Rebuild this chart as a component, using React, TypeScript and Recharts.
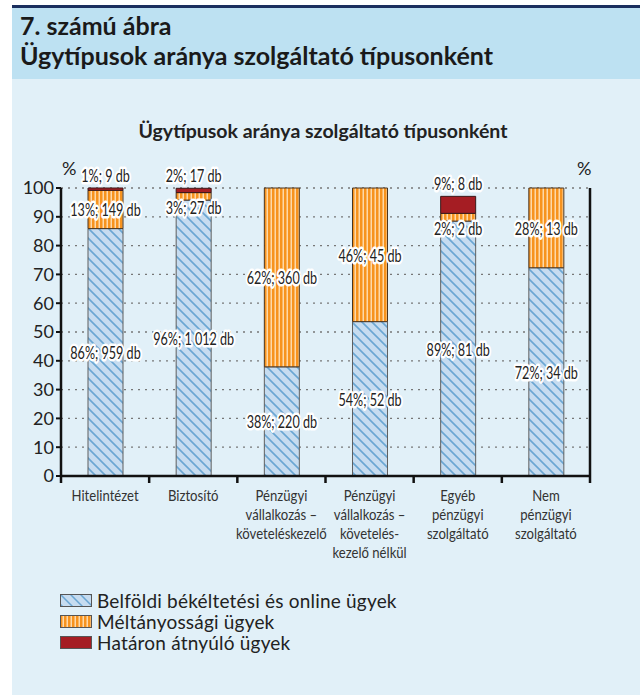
import React from 'react';
import { BarChart, Bar, XAxis, YAxis, CartesianGrid, LabelList } from 'recharts';

// ---- data ----
const categories = [
  'Hitelintézet',
  'Biztosító',
  'Pénzügyi\nvállalkozás –\nköveteléskezelő',
  'Pénzügyi\nvállalkozás –\nkövetelés-\nkezelő nélkül',
  'Egyéb\npénzügyi\nszolgáltató',
  'Nem\npénzügyi\nszolgáltató',
];
const domesticShare = [85.9, 95.8, 37.9, 53.6, 88.5, 72.3];
const equityShare = [13.3, 2.6, 62.1, 46.4, 2.7, 27.7];
const crossBorderShare = [0.8, 1.5, 0, 0, 5.9, 0];
const domesticLabels = ['86%; 959 db', '96%; 1 012 db', '38%; 220 db', '54%; 52 db', '89%; 81 db', '72%; 34 db'];
const equityLabels = ['13%; 149 db', '3%; 27 db', '62%; 360 db', '46%; 45 db', '2%; 2 db', '28%; 13 db'];
const crossBorderLabels = ['1%; 9 db', '2%; 17 db', '', '', '9%; 8 db', ''];
const yTicks = [0, 10, 20, 30, 40, 50, 60, 70, 80, 90, 100];
const seriesNames = ['Belföldi békéltetési és online ügyek', 'Méltányossági ügyek', 'Határon átnyúló ügyek'];

const rows = categories.map((name, i) => ({
  name,
  blue: domesticShare[i],
  orange: equityShare[i],
  red: crossBorderShare[i],
  blueLabel: domesticLabels[i],
  orangeLabel: equityLabels[i],
  redLabel: crossBorderLabels[i],
}));

const MAIN = "Lato, 'Open Sans', sans-serif";

const Halo = ({ x, y, text }: { x: number; y: number; text: string }) => (
  <g transform={`translate(${x},${y})`}>
    <text
      x={0}
      y={0}
      transform="scale(0.7,1)"
      textAnchor="middle"
      dominantBaseline="central"
      fontFamily={MAIN}
      fontSize={18}
      fill="#222"
      stroke="#fff"
      strokeWidth={5}
      strokeLinejoin="round"
      paintOrder="stroke"
    >
      {text}
    </text>
  </g>
);

const centerLabel = (props: any) => {
  const { x, y, width, height, value } = props;
  if (!value) return null;
  return <Halo x={x + width / 2} y={y + height / 2} text={value} />;
};
const orangeLabel = (props: any) => {
  const { x, y, width, height, value } = props;
  if (!value) return null;
  const cy = height < 15 ? y + height + 7 : y + height / 2;
  return <Halo x={x + width / 2} y={cy} text={value} />;
};
const topLabel = (props: any) => {
  const { x, y, width, value } = props;
  if (!value) return null;
  return <Halo x={x + width / 2} y={y - 13} text={value} />;
};

const CatTick = (props: any) => {
  const { x, y, payload, index, visibleTicksCount, width } = props;
  const lines = String(payload.value).split('\n');
  const half = payload.offset != null && payload.offset > 0 ? payload.offset : width / (2 * visibleTicksCount);
  const isLast = index === visibleTicksCount - 1;
  return (
    <g transform={`translate(${x},${y})`}>
      <line x1={-half} x2={-half} y1={-13} y2={-6} stroke="#111" strokeWidth={2.5} />
      {isLast && <line x1={half} x2={half} y1={-13} y2={-6} stroke="#111" strokeWidth={2.5} />}
      <text x={0} y={0} transform="scale(0.82,1)" textAnchor="middle" fontFamily={MAIN} fontSize={16} fill="#333">
        {lines.map((l, i) => (
          <tspan key={i} x={0} dy={i === 0 ? 12 : 19}>
            {l}
          </tspan>
        ))}
      </text>
    </g>
  );
};

const Swatch = ({ kind }: { kind: number }) => (
  <svg width={32} height={13} style={{ display: 'block', flex: 'none' }}>
    <defs>
      <pattern id="lg-hatch" patternUnits="userSpaceOnUse" width={10} height={10}>
        <rect width={10} height={10} fill="#c6dcf0" />
        <path d="M0,0 L10,10 M-2,8 L2,12 M8,-2 L12,2" stroke="#6aa6d3" strokeWidth={1.5} />
      </pattern>
      <pattern id="lg-stripe" patternUnits="userSpaceOnUse" width={4} height={4}>
        <rect width={4} height={4} fill="#f7931e" />
        <rect x={2.5} width={1.5} height={4} fill="#fdd9a9" />
      </pattern>
    </defs>
    <rect
      x={0.5}
      y={0.5}
      width={31}
      height={12}
      fill={kind === 0 ? 'url(#lg-hatch)' : kind === 1 ? 'url(#lg-stripe)' : '#a51d23'}
      stroke="#555"
      strokeWidth={1}
    />
  </svg>
);

export default function App() {
  return (
    <div style={{ position: 'absolute', left: 0, top: 0, width: 640, height: 695, background: '#fff', overflow: 'hidden' }}>
      <div style={{ position: 'absolute', left: 12, top: 5, width: 628, height: 690, background: '#e1f0f8' }} />
      <div style={{ position: 'absolute', left: 12, top: 5, width: 628, height: 2.5, background: '#1b2f5e' }} />
      <div style={{ position: 'absolute', left: 12, top: 7.5, width: 628, height: 71.5, background: '#bde1f2' }} />
      <div
        style={{
          position: 'absolute',
          left: 20,
          top: 10,
          fontFamily: MAIN,
          fontWeight: 700,
          fontSize: 25,
          lineHeight: '30px',
          color: '#1a1a1a',
          whiteSpace: 'nowrap',
        }}
      >
        <div>7. számú ábra</div>
        <div>Ügytípusok aránya szolgáltató típusonként</div>
      </div>
      <div
        style={{
          position: 'absolute',
          left: 0,
          width: 646,
          top: 119,
          textAlign: 'center',
          fontFamily: MAIN,
          fontWeight: 700,
          fontSize: 19.5,
          color: '#222',
          whiteSpace: 'nowrap',
        }}
      >
        Ügytípusok aránya szolgáltató típusonként
      </div>
      <div style={{ position: 'absolute', left: 62, top: 157, fontFamily: MAIN, fontSize: 18, color: '#222' }}>%</div>
      <div style={{ position: 'absolute', left: 577, top: 157, fontFamily: MAIN, fontSize: 18, color: '#222' }}>%</div>

      <div style={{ position: 'absolute', left: 0, top: 0 }}>
        <BarChart
          width={640}
          height={695}
          data={rows}
          margin={{ top: 188, right: 0, left: 11, bottom: 139 }}
          barSize={35}
        >
          <defs>
            <pattern id="hatch" patternUnits="userSpaceOnUse" width={10} height={10}>
              <rect width={10} height={10} fill="#c6dcf0" />
              <path d="M0,0 L10,10 M-2,8 L2,12 M8,-2 L12,2" stroke="#6aa6d3" strokeWidth={1.6} />
            </pattern>
            <pattern id="stripe" patternUnits="userSpaceOnUse" width={4} height={4}>
              <rect width={4} height={4} fill="#f7931e" />
              <rect x={2.5} width={1.5} height={4} fill="#fdd9a9" />
            </pattern>
          </defs>
          <CartesianGrid yAxisId="left" vertical={false} stroke="#777" strokeDasharray="2 5" strokeWidth={1.3} />
          <XAxis
            dataKey="name"
            height={80}
            interval={0}
            axisLine={{ stroke: '#111', strokeWidth: 2.5 }}
            tickLine={false}
            tickSize={0}
            tickMargin={13}
            tick={CatTick}
          />
          <YAxis
            yAxisId="left"
            domain={[0, 100]}
            ticks={yTicks}
            interval={0}
            width={50}
            axisLine={{ stroke: '#111', strokeWidth: 2.5 }}
            tickLine={{ stroke: '#111', strokeWidth: 2 }}
            tickSize={5}
            tickMargin={2}
            tick={{ fontFamily: MAIN, fontSize: 18, fill: '#222' }}
          />
          <YAxis
            yAxisId="right"
            orientation="right"
            domain={[0, 100]}
            ticks={yTicks}
            interval={0}
            width={50}
            axisLine={{ stroke: '#111', strokeWidth: 2.5 }}
            tickLine={{ stroke: '#111', strokeWidth: 2 }}
            tickSize={5}
            tickMargin={3}
            tick={{ fontFamily: MAIN, fontSize: 18, fill: '#222', textAnchor: 'start' }}
          />
          <Bar dataKey="blue" stackId="s" yAxisId="left" fill="url(#hatch)" stroke="#5f5f5f" strokeWidth={1} isAnimationActive={false}>
            <LabelList dataKey="blueLabel" content={centerLabel} />
          </Bar>
          <Bar dataKey="orange" stackId="s" yAxisId="left" fill="url(#stripe)" stroke="#4a3520" strokeWidth={1} isAnimationActive={false}>
            <LabelList dataKey="orangeLabel" content={orangeLabel} />
          </Bar>
          <Bar dataKey="red" stackId="s" yAxisId="left" fill="#a51d23" stroke="#3a1a1a" strokeWidth={1} isAnimationActive={false}>
            <LabelList dataKey="redLabel" content={topLabel} />
          </Bar>
        </BarChart>
      </div>

      <div style={{ position: 'absolute', left: 60, top: 590, fontFamily: MAIN, fontSize: 19, letterSpacing: 0.2, color: '#222' }}>
        {seriesNames.map((n, i) => (
          <div key={n} style={{ display: 'flex', alignItems: 'center', height: 21 }}>
            <Swatch kind={i} />
            <span style={{ marginLeft: 5, whiteSpace: 'nowrap' }}>{n}</span>
          </div>
        ))}
      </div>
    </div>
  );
}
